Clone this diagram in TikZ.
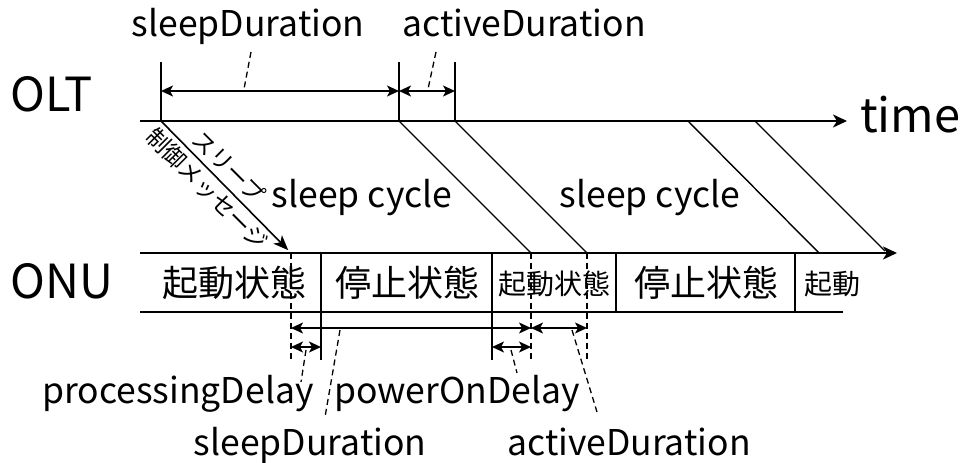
\documentclass[tikz,border=0pt]{standalone}
\usepackage{fontspec}
\setmainfont{Noto Sans CJK JP}
\usepackage{tikz}
\usetikzlibrary{positioning}
\usetikzlibrary{arrows.meta,calc}

\tikzset{
	axis/.style={line width=2pt, -{Stealth[length=14pt,width=13pt,inset=4pt]}},
	rail/.style={line width=2pt},
	signal/.style={line width=1.4pt},
	msg/.style={line width=1.6pt, -{Stealth[length=15pt,width=12pt,inset=4pt]}, shorten >=4pt},
	tick/.style={line width=1.6pt},
	tickdash/.style={line width=1.6pt, dash pattern=on 6pt off 4pt},
	dimline/.style={line width=1.4pt, {Stealth[length=12pt,width=11pt,inset=3pt]}-{Stealth[length=12pt,width=11pt,inset=3pt]}},
	leader/.style={line width=1.3pt, dash pattern=on 6pt off 4pt},
	lbl/.style={inner sep=0pt, anchor=base, font=\fontsize{35.5}{38}\selectfont},
	ent/.style={inner sep=0pt, anchor=base west, font=\fontsize{47}{50}\selectfont},
	statebig/.style={inner sep=0pt, anchor=base, font=\fontsize{36}{38}\selectfont},
	statesmall/.style={inner sep=0pt, anchor=base, font=\fontsize{28}{30}\selectfont},
}

\begin{document}
\begin{tikzpicture}[x=1pt, y=-1pt]
	
	% ------------------------------------------------
	% Ensure the dimensions of graphic are appropriate
	\useasboundingbox (0,0) rectangle (964,463);
	
	% ------------------------------------------------
	% Relevant coordinates
	\coordinate (OltBeg) at (140,121);
	\coordinate (OltEnd) at (847,121);
	\coordinate (OnuBeg) at (140,253);
	\coordinate (OnuEnd) at (897,253);
	\coordinate (OnuLow) at (140,312);
	\coordinate (OnuLowEnd) at (843,312);
	
	% OLT side
	\coordinate (T0) at (161,121);
	\coordinate (T1) at (399,121);
	\coordinate (T2) at (455,121);
	\coordinate (T3) at (688,121);
	\coordinate (T4) at (755,121);
	
	\path (T0) +(0,-59) coordinate (T0Top);
	\path (T1) +(0,-59) coordinate (T1Top);
	\path (T2) +(0,-59) coordinate (T2Top);
	
	\path (T0) +(0,-30) coordinate (D0);
	\path (T1) +(0,-30) coordinate (D1);
	\path (T2) +(0,-30) coordinate (D2);
	
	% ONU side
	\coordinate (U0) at (291,253);
	\coordinate (U1) at (321,253);
	\coordinate (U2) at (492,253);
	\coordinate (U3) at (531,253);
	\coordinate (U4) at (587,253);
	\coordinate (U5) at (616,253);
	\coordinate (U6) at (795,253);
	\coordinate (U7) at (819,253);
	\coordinate (U8) at (885,251);
	
	\path (U0) +(0,107) coordinate (U0Bot);
	\path (U1) +(0,107) coordinate (U1Bot);
	\path (U2) +(0,107) coordinate (U2Bot);
	\path (U3) +(0,107) coordinate (U3Bot);
	\path (U4) +(0,107) coordinate (U4Bot);
	\path (U5) +(0,59) coordinate (U5Bot);
	\path (U6) +(0,59) coordinate (U6Bot);
	
	\path (U0) +(0,75) coordinate (E0);
	\path (U3) +(0,75) coordinate (E3);
	\path (U4) +(0,75) coordinate (E4);
	
	\path (U0) +(0,94) coordinate (F0);
	\path (U1) +(0,94) coordinate (F1);
	\path (U2) +(0,94) coordinate (F2);
	\path (U3) +(0,94) coordinate (F3);
	
	% ----------------
	% Axes
	\draw[axis] (OltBeg) -- (OltEnd);
	\draw[axis] (OnuBeg) -- (OnuEnd);
	\draw[rail] (OnuLow) -- (OnuLowEnd);
	
	\node[ent] (OltLabel) at (10,111) {OLT};
	\node[ent] (OnuLabel) at (10,298) {ONU};
	\node[ent] (TimeLabel) at (860,132) {time};
	
	% ----------------
	% Ticks and signals
	\draw[tick] (T0) -- (T0Top);
	\draw[tick] (T1) -- (T1Top);
	\draw[tick] (T2) -- (T2Top);
	
	\draw[msg] (T0) -- (U0);
	\draw[signal] (T1) -- (U3);
	\draw[signal] (T2) -- (U4);
	\draw[signal] (T3) -- (U7);
	\draw[signal] (T4) -- (U8);
	
	\node[rotate=-45, align=center, inner sep=0pt,
		font=\fontsize{23}{31}\selectfont] (MsgLabel) at (218,178)
		{スリープ\\制御メッセージ};
	
	\draw[tickdash] (U0) -- (U0Bot);
	\draw[tick]     (U1) -- (U1Bot);
	\draw[tick]     (U2) -- (U2Bot);
	\draw[tickdash] (U3) -- (U3Bot);
	\draw[tickdash] (U4) -- (U4Bot);
	\draw[tick]     (U5) -- (U5Bot);
	\draw[tick]     (U6) -- (U6Bot);
	
	% ----------------
	% ONU states
	\node[statebig]   (StateA) at (234,296) {起動状態};
	\node[statebig]   (StateB) at (407,296) {停止状態};
	\node[statesmall] (StateC) at (554,294) {起動状態};
	\node[statebig]   (StateD) at (706,296) {停止状態};
	\node[statesmall] (StateE) at (832,294) {起動};
	
	\node[lbl] (CycleA) at (362,207) {sleep cycle};
	\node[lbl] (CycleB) at (650,207) {sleep cycle};
	
	% ----------------
	% Durations
	\draw[dimline] (D0) -- (D1);
	\draw[dimline] (D1) -- (D2);
	
	\draw[dimline] (E0) -- (E3);
	\draw[dimline] (E3) -- (E4);
	\draw[dimline] (F0) -- (F1);
	\draw[dimline] (F2) -- (F3);
	
	\node[lbl] (OltSleep)  at (248,36) {sleepDuration};
	\node[lbl] (OltActive) at (524,36) {activeDuration};
	\node[lbl] (ProcDelay) at (178,403) {processingDelay};
	\node[lbl] (PowDelay)  at (457,403) {powerOnDelay};
	\node[lbl] (OnuSleep)  at (310,455) {sleepDuration};
	\node[lbl] (OnuActive) at (629,455) {activeDuration};
	
	% ----------------
	% Leaders
	\coordinate (LA1) at (251,52);  \coordinate (LA2) at (244,89);
	\coordinate (LB1) at (436,52);  \coordinate (LB2) at (428,89);
	\coordinate (LC1) at (306,350); \coordinate (LC2) at (301,382);
	\coordinate (LD1) at (340,330); \coordinate (LD2) at (325,417);
	\coordinate (LE1) at (511,350); \coordinate (LE2) at (517,373);
	\coordinate (LF1) at (572,330); \coordinate (LF2) at (597,412);
	
	\draw[leader] (LA1) -- (LA2);
	\draw[leader] (LB1) -- (LB2);
	\draw[leader] (LC1) -- (LC2);
	\draw[leader] (LD1) -- (LD2);
	\draw[leader] (LE1) -- (LE2);
	\draw[leader] (LF1) -- (LF2);
	
\end{tikzpicture}
\end{document}
